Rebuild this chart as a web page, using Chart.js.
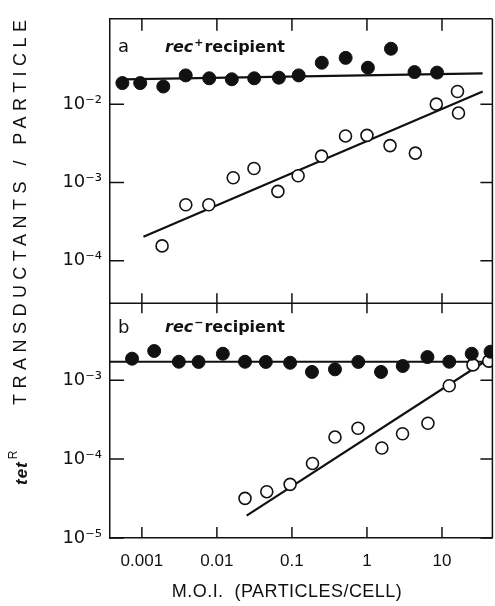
<!DOCTYPE html>
<html>
<head>
<meta charset="utf-8">
<script src="https://cdn.jsdelivr.net/npm/chart.js@4.4.1/dist/chart.umd.min.js"></script>
<style>
  html, body { margin: 0; padding: 0; background: #fff; overflow: hidden; }
  canvas { display: block; }
</style>
</head>
<body>
<canvas id="c" width="500" height="606"></canvas>
<script>
// ---------- data ----------
const xTickValues = [0.001, 0.01, 0.1, 1, 10];
const xTickLabels = ['0.001', '0.01', '0.1', '1', '10'];
const yATickValues = [1e-2, 1e-3, 1e-4];
const yATickLabels = ['10\u207B\u00B2', '10\u207B\u00B3', '10\u207B\u2074'];
const yBTickValues = [1e-3, 1e-4, 1e-5];
const yBTickLabels = ['10\u207B\u00B3', '10\u207B\u2074', '10\u207B\u2075'];

// panel a: rec+ recipient
const aFilledX = [5.5e-4, 9.5e-4, 1.93e-3, 3.84e-3, 7.9e-3, 0.0158, 0.0314, 0.067, 0.123, 0.25, 0.52, 1.03, 2.09, 4.3, 8.6];
const aFilledY = [0.0186, 0.0186, 0.0168, 0.0233, 0.0214, 0.0208, 0.0214, 0.0218, 0.0233, 0.0338, 0.039, 0.0292, 0.051, 0.0257, 0.0253];
const aOpenX = [1.86e-3, 3.85e-3, 7.8e-3, 0.0165, 0.0312, 0.065, 0.121, 0.248, 0.518, 1.0, 2.03, 4.42, 8.4, 16.1, 16.6];
const aOpenY = [1.55e-4, 5.2e-4, 5.2e-4, 1.15e-3, 1.51e-3, 7.7e-4, 1.22e-3, 2.17e-3, 3.93e-3, 4.0e-3, 2.96e-3, 2.37e-3, 1.0e-2, 1.45e-2, 7.7e-3];
const aFilledFitX = [5.5e-4, 34.8];
const aFilledFitY = [0.0207, 0.0247];
const aOpenFitX = [1.05e-3, 34.9];
const aOpenFitY = [2.03e-4, 0.0145];

// panel b: rec- recipient
const bFilledX = [7.4e-4, 1.46e-3, 3.11e-3, 5.7e-3, 0.012, 0.0237, 0.0449, 0.0946, 0.185, 0.375, 0.767, 1.54, 3.0, 6.4, 12.5, 24.9, 44.4];
const bFilledY = [1.87e-3, 2.34e-3, 1.71e-3, 1.7e-3, 2.16e-3, 1.71e-3, 1.7e-3, 1.66e-3, 1.27e-3, 1.37e-3, 1.7e-3, 1.27e-3, 1.51e-3, 1.96e-3, 1.71e-3, 2.16e-3, 2.29e-3];
const bOpenX = [0.0237, 0.0462, 0.0946, 0.188, 0.375, 0.76, 1.58, 2.98, 6.5, 12.5, 25.9, 42];
const bOpenY = [3.18e-5, 3.86e-5, 4.78e-5, 8.8e-5, 1.9e-4, 2.46e-4, 1.38e-4, 2.09e-4, 2.84e-4, 8.5e-4, 1.56e-3, 1.74e-3];
const bFilledFitX = [3.76e-4, 47];
const bFilledFitY = [1.71e-3, 1.71e-3];
const bOpenFitX = [0.0249, 44.4];
const bOpenFitY = [1.92e-5, 1.92e-3];

const xRange = [3.76e-4, 47];
const yARange = [2.88e-5, 0.123];
const yBRange = [1e-5, 9.44e-3];

// ---------- chart ----------
const INK = '#111';
const pts = (xs, ys) => xs.map((x, i) => ({ x: x, y: ys[i] }));

function filled(xs, ys, axis) {
  return { data: pts(xs, ys), yAxisID: axis, showLine: false, order: 0,
    pointRadius: 6.5, pointBackgroundColor: INK, pointBorderColor: INK, pointBorderWidth: 1 };
}
function open(xs, ys, axis) {
  return { data: pts(xs, ys), yAxisID: axis, showLine: false, order: 0,
    pointRadius: 6, pointBackgroundColor: '#fff', pointBorderColor: INK, pointBorderWidth: 1.6 };
}
function fit(xs, ys, axis) {
  return { data: pts(xs, ys), yAxisID: axis, showLine: true, order: 5, tension: 0,
    borderColor: INK, borderWidth: 2.2, pointRadius: 0, fill: false };
}

const xTickFont = { family: '"Liberation Sans", Arial, sans-serif', size: 17 };
const yTickFont = { family: '"DejaVu Sans", sans-serif', size: 18 };

const framePlugin = {
  id: 'frame',
  afterDatasetsDraw(chart) {
    const { ctx, chartArea: ca, scales } = chart;
    const x = scales.x, ya = scales.yA, yb = scales.yB;
    ctx.save();
    ctx.strokeStyle = INK;
    ctx.lineWidth = 1.5;
    ctx.beginPath();
    ctx.moveTo(ca.left, ca.top); ctx.lineTo(ca.right, ca.top);
    ctx.moveTo(ca.left, ya.bottom); ctx.lineTo(ca.right, ya.bottom);
    ctx.moveTo(ca.right, ca.top); ctx.lineTo(ca.right, ca.bottom);
    for (const v of xTickValues) {
      const px = x.getPixelForValue(v);
      ctx.moveTo(px, ca.top); ctx.lineTo(px, ca.top + 12);
      ctx.moveTo(px, ya.bottom - 10); ctx.lineTo(px, ya.bottom + 10);
      ctx.moveTo(px, ca.bottom); ctx.lineTo(px, ca.bottom - 11);
    }
    [[ya, yATickValues], [yb, yBTickValues]].forEach(([s, vals]) => {
      for (const v of vals) {
        const py = s.getPixelForValue(v);
        ctx.moveTo(ca.left, py); ctx.lineTo(ca.left + 14, py);
        ctx.moveTo(ca.right, py); ctx.lineTo(ca.right - 12, py);
      }
    });
    ctx.stroke();

    // panel labels
    ctx.fillStyle = INK;
    ctx.textBaseline = 'middle';
    ctx.textAlign = 'left';
    const panel = (letter, sup, y) => {
      ctx.font = '18px "DejaVu Sans"';
      ctx.fillText(letter, ca.left + 8, y);
      let tx = ca.left + 55;
      ctx.font = 'italic bold 16px "DejaVu Sans"';
      ctx.fillText('rec', tx, y);
      tx += ctx.measureText('rec').width + 1;
      ctx.font = 'bold 11px "DejaVu Sans"';
      ctx.fillText(sup, tx, y - 5);
      tx += ctx.measureText(sup).width + 1;
      ctx.font = 'bold 16px "DejaVu Sans"';
      ctx.fillText('recipient', tx, y);
    };
    panel('a', '+', ya.top + 29);
    panel('b', '\u2212', yb.top + 25);

    // y-axis title (rotated, spaced)
    ctx.save();
    ctx.translate(21, 405);
    ctx.rotate(-Math.PI / 2);
    ctx.font = '18px "Liberation Sans"';
    const yt = 'TRANSDUCTANTS / PARTICLE';
    const w0 = ctx.measureText(yt).width;
    ctx.letterSpacing = ((385 - w0) / (yt.length - 1)).toFixed(2) + 'px';
    ctx.fillText(yt, 0, 0);
    ctx.letterSpacing = '0px';
    ctx.restore();

    ctx.save();
    ctx.translate(22, 485);
    ctx.rotate(-Math.PI / 2);
    ctx.font = 'italic bold 17px "Liberation Sans"';
    ctx.letterSpacing = '1px';
    ctx.fillText('tet', 0, 0);
    const tw = ctx.measureText('tet').width;
    ctx.font = '12px "Liberation Sans"';
    ctx.fillText('R', tw + 2, -8);
    ctx.letterSpacing = '0px';
    ctx.restore();

    // x-axis title
    ctx.font = '18px "Liberation Sans"';
    const xt = 'M.O.I.  (PARTICLES/CELL)';
    const xw0 = ctx.measureText(xt).width;
    ctx.letterSpacing = Math.max(0, (230 - xw0) / (xt.length - 1)).toFixed(2) + 'px';
    ctx.textAlign = 'center';
    ctx.fillText(xt, 287, 592);
    ctx.letterSpacing = '0px';
    ctx.restore();
  }
};

function logAxis(range, tickValues, tickLabels, weight) {
  return {
    type: 'logarithmic', position: 'left', stack: 'panels', stackWeight: weight,
    min: range[0], max: range[1],
    grid: { display: false, drawTicks: false },
    border: { display: true, color: INK, width: 1.5 },
    afterBuildTicks: (s) => { s.ticks = tickValues.map(v => ({ value: v })); },
    afterFit: (s) => { s.width = 110; },
    ticks: {
      color: INK, font: yTickFont, padding: 8, autoSkip: false,
      callback: (v) => { const i = tickValues.indexOf(v); return i >= 0 ? tickLabels[i] : ''; }
    }
  };
}

new Chart(document.getElementById('c'), {
  type: 'scatter',
  data: {
    datasets: [
      filled(aFilledX, aFilledY, 'yA'),
      open(aOpenX, aOpenY, 'yA'),
      filled(bFilledX, bFilledY, 'yB'),
      open(bOpenX, bOpenY, 'yB'),
      fit(aFilledFitX, aFilledFitY, 'yA'),
      fit(aOpenFitX, aOpenFitY, 'yA'),
      fit(bFilledFitX, bFilledFitY, 'yB'),
      fit(bOpenFitX, bOpenFitY, 'yB')
    ]
  },
  options: {
    responsive: false,
    animation: false,
    devicePixelRatio: 1,
    layout: { padding: { top: 14, right: 3, left: 0, bottom: 0 } },
    plugins: { legend: { display: false }, tooltip: { enabled: false } },
    scales: {
      x: {
        type: 'logarithmic', position: 'bottom',
        min: xRange[0], max: xRange[1],
        grid: { display: false, drawTicks: false },
        border: { display: true, color: INK, width: 1.5 },
        afterBuildTicks: (s) => { s.ticks = xTickValues.map(v => ({ value: v })); },
        afterFit: (s) => { s.height = 68; },
        ticks: {
          color: INK, font: xTickFont, padding: 13, autoSkip: false, maxRotation: 0,
          callback: (v) => { const i = xTickValues.indexOf(v); return i >= 0 ? xTickLabels[i] : ''; }
        }
      },
      yB: logAxis(yBRange, yBTickValues, yBTickLabels, 237),
      yA: logAxis(yARange, yATickValues, yATickLabels, 287)
    }
  },
  plugins: [framePlugin]
});
</script>
</body>
</html>
